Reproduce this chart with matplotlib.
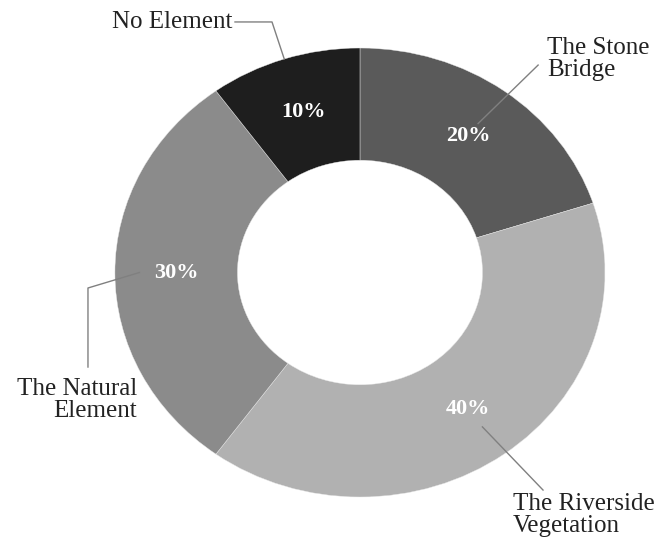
import matplotlib
matplotlib.use('Agg')
import matplotlib.pyplot as plt
import numpy as np

labels = ['The Stone\nBridge', 'The Riverside\nVegetation', 'The Natural\nElement', 'No Element']
shares = [20, 40, 30, 10]
colors = ['#5a5a5a', '#b1b1b1', '#8b8b8b', '#1e1e1e']

plt.rcParams['font.family'] = ['Liberation Serif', 'DejaVu Serif']

fig = plt.figure(figsize=(6.68, 5.4), dpi=100)
ax = fig.add_axes([0, 0, 1, 1])
wedges, texts, autotexts = ax.pie(shares, colors=colors, startangle=90, counterclock=False,
                                  autopct='%d%%', pctdistance=0.75,
                                  wedgeprops=dict(width=0.5, edgecolor='#e8e8e8', linewidth=0.3),
                                  textprops=dict(color='white', fontsize=16, fontweight='bold'))
# the original ring is a bit squashed vertically
ax.set_aspect('auto')
ax.set_xlim(-1.469, 1.257)
ax.set_ylim(-1.1915, 1.2138)
ax.axis('off')


def edge(i, r):
    w = wedges[i]
    t = np.deg2rad((w.theta1 + w.theta2) / 2)
    return r * np.cos(t), r * np.sin(t)


# (text xy, ha, leader points) per slice
layout = [
    ((0.763, 0.951), 'left', [(0.727, 0.924), edge(0, 0.82)]),
    ((0.624, -1.080), 'left', [edge(1, 0.85), (0.747, -0.969)]),
    ((-0.910, -0.568), 'right', [edge(2, 0.9), (-1.110, -0.069), (-1.110, -0.421)]),
    ((-0.522, 1.116), 'right', [(-0.51, 1.116), (-0.359, 1.116), edge(3, 1.0)]),
]

for lab, (xy, ha, pts) in zip(labels, layout):
    ax.text(xy[0], xy[1], lab, ha=ha, va='center', multialignment=ha,
            fontsize=18, color='#222222', linespacing=1.05)
    px, py = zip(*pts)
    ax.plot(px, py, color='#808080', lw=1)

fig.savefig('out.png', dpi=100)
